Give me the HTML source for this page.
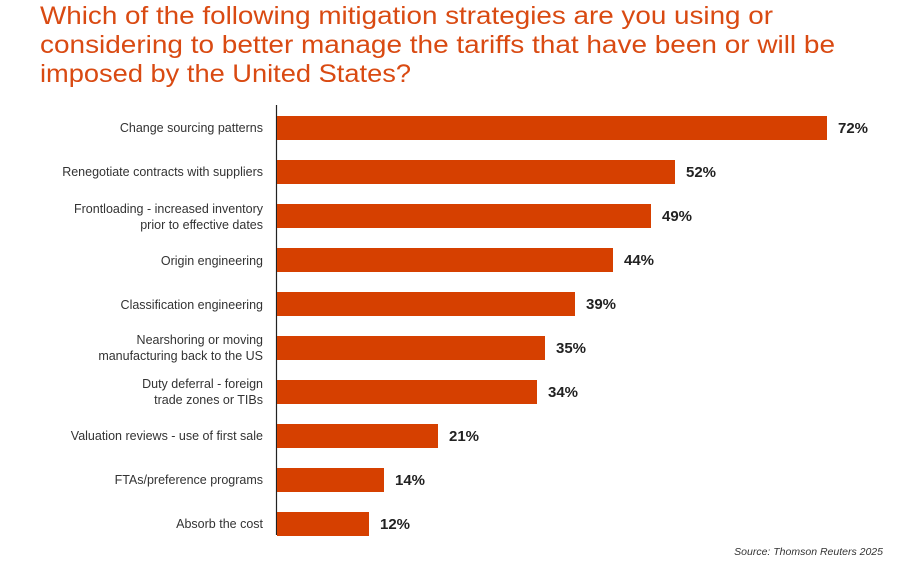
<!DOCTYPE html>
<html><head><meta charset="utf-8"><style>html,body{margin:0;padding:0;background:#fff}svg{display:block}</style></head>
<body>
<svg width="903" height="582" xmlns="http://www.w3.org/2000/svg" font-family="Liberation Sans, sans-serif">
<g fill="#d94a12" font-size="25">
<text x="40" y="24" textLength="733" lengthAdjust="spacingAndGlyphs">Which of the following mitigation strategies are you using or</text>
<text x="40" y="53" textLength="795" lengthAdjust="spacingAndGlyphs">considering to better manage the tariffs that have been or will be</text>
<text x="40" y="82" textLength="371" lengthAdjust="spacingAndGlyphs">imposed by the United States?</text>
</g>
<line x1="276.5" y1="105" x2="276.5" y2="535" stroke="#222" stroke-width="1.2"/>
<g fill="#d64000">
<rect x="277" y="116" width="550" height="24"/>
<rect x="277" y="160" width="398" height="24"/>
<rect x="277" y="204" width="374" height="24"/>
<rect x="277" y="248" width="336" height="24"/>
<rect x="277" y="292" width="298" height="24"/>
<rect x="277" y="336" width="268" height="24"/>
<rect x="277" y="380" width="260" height="24"/>
<rect x="277" y="424" width="161" height="24"/>
<rect x="277" y="468" width="107" height="24"/>
<rect x="277" y="512" width="92" height="24"/>
</g>
<g fill="#222" font-size="15" font-weight="bold">
<text x="838" y="133">72%</text>
<text x="686" y="177">52%</text>
<text x="662" y="221">49%</text>
<text x="624" y="265">44%</text>
<text x="586" y="309">39%</text>
<text x="556" y="353">35%</text>
<text x="548" y="397">34%</text>
<text x="449" y="441">21%</text>
<text x="395" y="485">14%</text>
<text x="380" y="529">12%</text>
</g>
<g fill="#333" font-size="12.5" text-anchor="end">
<text x="263" y="132">Change sourcing patterns</text>
<text x="263" y="176">Renegotiate contracts with suppliers</text>
<text x="263" y="213">Frontloading - increased inventory</text>
<text x="263" y="229">prior to effective dates</text>
<text x="263" y="265">Origin engineering</text>
<text x="263" y="309">Classification engineering</text>
<text x="263" y="344">Nearshoring or moving</text>
<text x="263" y="360">manufacturing back to the US</text>
<text x="263" y="388">Duty deferral - foreign</text>
<text x="263" y="404">trade zones or TIBs</text>
<text x="263" y="440">Valuation reviews - use of first sale</text>
<text x="263" y="484">FTAs/preference programs</text>
<text x="263" y="528">Absorb the cost</text>
</g>
<text x="883" y="555" fill="#333" font-size="10.5" font-style="italic" text-anchor="end">Source: Thomson Reuters 2025</text>
</svg>
</body></html>
